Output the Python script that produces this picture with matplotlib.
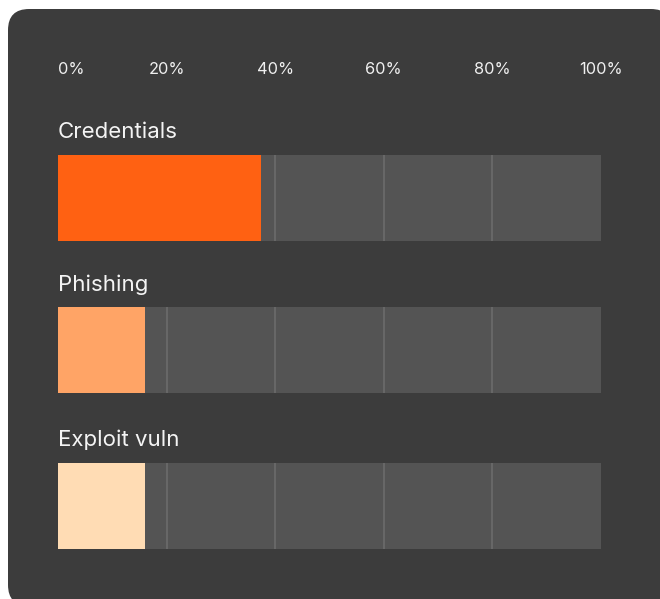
import matplotlib
matplotlib.use("Agg")
import matplotlib.pyplot as plt
from matplotlib.patches import FancyBboxPatch

categories = ["Credentials", "Phishing", "Exploit vuln"]
values = [37.4, 16.0, 16.0]
bar_colors = ["#ff6112", "#ffa466", "#ffdcb4"]
tick_values = [0, 20, 40, 60, 80, 100]
tick_labels = ["0%", "20%", "40%", "60%", "80%", "100%"]

W, H = 660, 599
fig = plt.figure(figsize=(W / 100, H / 100), dpi=100)
fig.patch.set_facecolor("white")

# rounded dark card (extends slightly past the right/bottom edges)
cx0, cy0, cx1, cy1 = 8, 9, 672, 606
card = FancyBboxPatch((cx0 / W, 1 - cy1 / H), (cx1 - cx0) / W, (cy1 - cy0) / H,
                      boxstyle="round,pad=0,rounding_size=0.032",
                      transform=fig.transFigure, facecolor="#3c3c3c",
                      edgecolor="none", mutation_aspect=W / H, zorder=-5)
fig.patches.append(card)

ax = fig.add_axes([0, 0, 1, 1])
ax.set_facecolor("none")
ax.set_zorder(2)
px_per = 543 / 100.0
x0 = 58
ax.set_xlim(-x0 / px_per, (W - x0) / px_per)
ax.set_ylim(H, 0)
ax.axis("off")

bar_centers = [198, 350, 506]
label_base = [138.5, 291, 446.5]
bar_h = 86

font = "Inter"
for cat, v, col, yc, ly in zip(categories, values, bar_colors, bar_centers, label_base):
    ax.barh(yc, 100, height=bar_h, left=0, color="#545454", zorder=1)
    for t in tick_values[1:-1]:
        ax.plot([t, t], [yc - bar_h / 2, yc + bar_h / 2], color="#6a6a6a",
                lw=1.3, zorder=2, solid_capstyle="butt")
    ax.barh(yc, v, height=bar_h, left=0, color=col, zorder=3)
    ax.text(0, ly, cat, color="#f4f4f4", fontsize=16, family=font,
            ha="left", va="baseline")

for t, lab in zip(tick_values, tick_labels):
    ax.text(t, 74.3, lab, color="#f0f0f0", fontsize=11.8, family=font,
            ha="left" if t == 0 else "center", va="baseline")

fig.savefig("out.png", dpi=100, facecolor="white")
